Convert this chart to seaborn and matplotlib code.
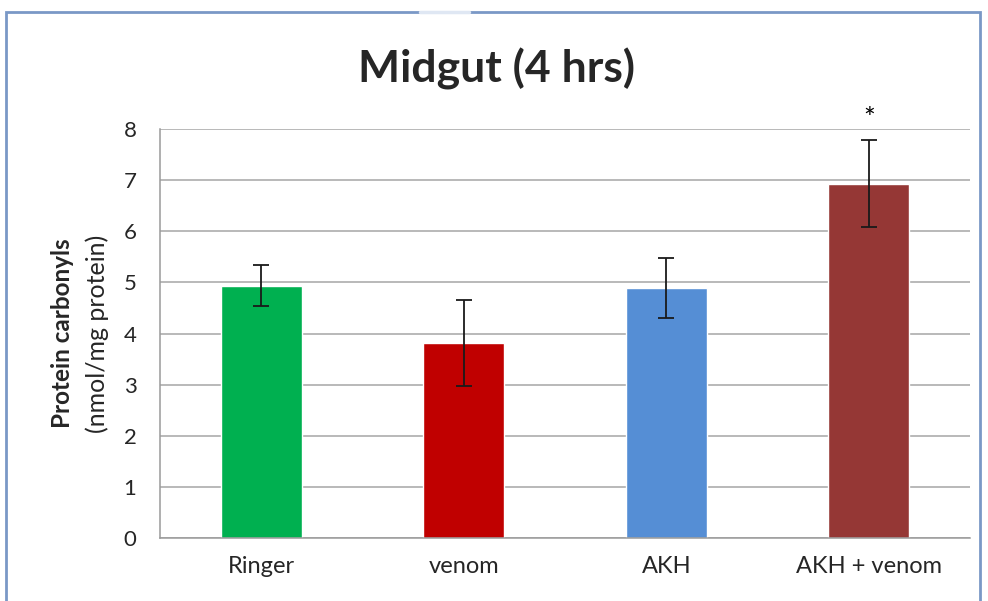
import matplotlib
matplotlib.use('Agg')
import matplotlib.pyplot as plt
import seaborn as sns
import pandas as pd
from matplotlib.patches import Rectangle
from matplotlib.lines import Line2D

# ── Data ──────────────────────────────────────────────────
groups = ['Ringer', 'venom', 'AKH', 'AKH + venom']
means  = [4.94, 3.82, 4.89, 6.93]
errs   = [0.41, 0.84, 0.58, 0.85]
colors = ['#00b050', '#c00000', '#558ed5', '#953735']
signif = ['', '', '', '*']
yticks = [0, 1, 2, 3, 4, 5, 6, 7, 8]

df = pd.DataFrame({'group': groups, 'mean': means})

sns.set_style('white')
plt.rcParams['font.family'] = ['Lato', 'DejaVu Sans']

fig = plt.figure(figsize=(9.88, 6.01), dpi=100)
ax = fig.add_axes([0.162, 0.105, 0.82, 0.68])

sns.barplot(data=df, x='group', y='mean', hue='group', palette=colors,
            width=0.4, legend=False, ax=ax, saturation=1)
ax.errorbar(range(len(groups)), means, yerr=errs, fmt='none',
            ecolor='#1a1a1a', elinewidth=1.3, capsize=6, capthick=1.3, zorder=5)
for i, s in enumerate(signif):
    if s:
        ax.text(i, means[i] + errs[i] + 0.4, s, ha='center', va='center',
                fontsize=20, color='black')

ax.set_ylim(0, 8)
ax.set_xlim(-0.5, len(groups) - 0.5)
ax.set_yticks(yticks)
ax.yaxis.grid(True, color='#a6a6a6', linewidth=1.1)
ax.set_axisbelow(True)
for sp in ['top', 'right']:
    ax.spines[sp].set_visible(False)
for sp in ['left', 'bottom']:
    ax.spines[sp].set_color('#9a9a9a')
    ax.spines[sp].set_linewidth(1.1)

# category ticks between groups, labels centered on groups
ax.set_xticks([i - 0.5 for i in range(len(groups) + 1)])
ax.set_xticklabels([])
ax.set_xticks(range(len(groups)), minor=True)
ax.set_xticklabels(groups, minor=True, fontsize=17, color='#262626')
ax.tick_params(axis='x', which='major', direction='out', length=8,
               color='#9a9a9a', width=1.1)
ax.tick_params(axis='x', which='minor', length=0, pad=13)
ax.tick_params(axis='y', direction='out', length=8, color='#9a9a9a',
               width=1.1, labelsize=16, labelcolor='#262626', pad=9)
ax.set_xlabel('')
ax.set_ylabel('')

ax.text(-0.121, 0.5, 'Protein carbonyls', transform=ax.transAxes, rotation=90,
        ha='center', va='center', fontsize=17.5, fontweight='bold')
ax.text(-0.078, 0.5, '(nmol/mg protein)', transform=ax.transAxes, rotation=90,
        ha='center', va='center', fontsize=18)

fig.text(0.503, 0.885, 'Midgut (4 hrs)', ha='center', va='center',
         fontsize=32, fontweight='bold')

# chart border
fig.patches.append(Rectangle((0.006, -0.05), 0.986, 1.03, transform=fig.transFigure,
                             fill=False, edgecolor='#7a98c6', linewidth=2))
fig.lines.append(Line2D([0.425, 0.475], [0.98, 0.98], transform=fig.transFigure,
                        color='#dfe7f3', linewidth=2.5))

plt.savefig('out.png', dpi=100)
